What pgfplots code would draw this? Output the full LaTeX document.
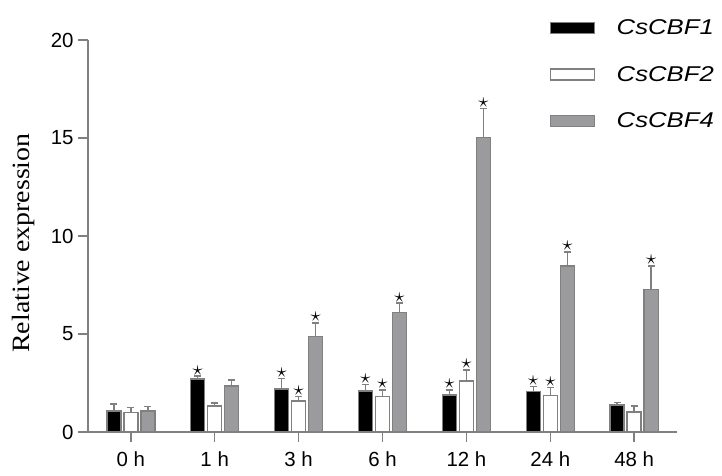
\documentclass[border=0pt]{standalone}
\usepackage{pgfplots}
\pgfplotsset{compat=1.18}
\usepackage{pgfplotstable}
\usepackage{fontspec}
\setmainfont{Liberation Sans}
\newfontfamily\labelfont[FakeStretch=1.12]{Liberation Serif}
\newfontfamily\legfont[FakeStretch=1.2]{Liberation Sans}
\definecolor{edge}{HTML}{808080}
\definecolor{bargray}{HTML}{9B9B9D}

\pgfplotstableread{
x y e
0 1.07 0.35
1 2.70 0.15
2 2.19 0.55
3 2.08 0.35
4 1.90 0.24
5 2.06 0.25
6 1.38 0.13
}\cbfone
\pgfplotstableread{
x y e
0 1.00 0.25
1 1.32 0.15
2 1.58 0.24
3 1.80 0.34
4 2.60 0.56
5 1.87 0.41
6 1.02 0.31
}\cbftwo
\pgfplotstableread{
x y e
0 1.07 0.23
1 2.35 0.31
2 4.86 0.70
3 6.09 0.48
4 15.02 1.48
5 8.47 0.71
6 7.28 1.19
}\cbffour

\begin{document}
\begin{tikzpicture}
\begin{axis}[
  scale only axis,
  width=589bp, height=392bp,
  xmin=-0.51, xmax=6.51,
  ymin=0, ymax=20,
  axis lines=left,
  axis line style={-, edge, line width=1.5bp},
  tick style={edge, line width=1.5bp},
  major tick length=10bp,
  tick align=outside,
  xtick={0,1,2,3,4,5,6},
  xticklabels={0 h,1 h,3 h,6 h,12 h,24 h,48 h},
  ytick={0,5,10,15,20},
  /pgf/number format/assume math mode=true,
  ticklabel style={font=\fontsize{20.5}{24}\selectfont},
  xticklabel style={yshift=-6bp},
  yticklabel style={xshift=-1bp},
  ylabel={\labelfont\fontsize{25}{28}\selectfont Relative expression},
  ylabel style={yshift=9bp, xshift=-7bp},
  clip=false,
  legend style={
    at={(0.784,1.057)}, anchor=north west,
    draw=none, fill=none, inner sep=0pt,
    font=\legfont\itshape\fontsize{21.5}{24}\selectfont,
    row sep=26bp,
    /tikz/every even column/.append style={column sep=0pt},
  },
  legend cell align=left,
  error bars/y dir=plus,
  error bars/y explicit,
  error bars/error bar style={edge, line width=1.5bp},
  error bars/error mark options={edge, line width=1.5bp, rotate=90, mark size=3.5bp},
]
\addplot[ybar, bar width=0.167, bar shift=0pt, fill=black, draw=edge, line width=1.5bp,
  legend image code/.code={\draw[fill=black, draw=edge, line width=1.5bp] (0bp,-5.5bp) rectangle (44bp,5.5bp); \path[draw=none,fill=none] (44bp,0) -- (64bp,0);}]
  table[x expr=\thisrow{x}-0.203, y=y, y error=e] {\cbfone};
\addlegendentry{CsCBF1}
\addplot[ybar, bar width=0.167, bar shift=0pt, fill=white, draw=edge, line width=1.5bp,
  legend image code/.code={\draw[fill=white, draw=edge, line width=1.5bp] (0bp,-5.5bp) rectangle (44bp,5.5bp); \path[draw=none,fill=none] (44bp,0) -- (64bp,0);}]
  table[x expr=\thisrow{x}, y=y, y error=e] {\cbftwo};
\addlegendentry{CsCBF2}
\addplot[ybar, bar width=0.167, bar shift=0pt, fill=bargray, draw=edge, line width=1.5bp,
  legend image code/.code={\draw[fill=bargray, draw=edge, line width=1.5bp] (0bp,-5.5bp) rectangle (44bp,5.5bp); \path[draw=none,fill=none] (44bp,0) -- (64bp,0);}]
  table[x expr=\thisrow{x}+0.203, y=y, y error=e] {\cbffour};
\addlegendentry{CsCBF4}
% significance stars
\addplot[only marks, mark=text, text mark={\fontsize{22}{22}\selectfont$\star$}, mark options={black}, forget plot]
  coordinates {(0.797,3.15) (1.797,3.04) (2.797,2.73) (3.797,2.44) (4.797,2.61)
               (2,2.12) (3,2.44) (4,3.46) (5,2.58)
               (2.203,5.86) (3.203,6.87) (4.203,16.8) (5.203,9.48) (6.203,8.77)};
\end{axis}
\pgfresetboundingbox
\path (current axis.south west) ++(-88bp,-44bp) rectangle ++(722bp,476bp);
\end{tikzpicture}
\end{document}
